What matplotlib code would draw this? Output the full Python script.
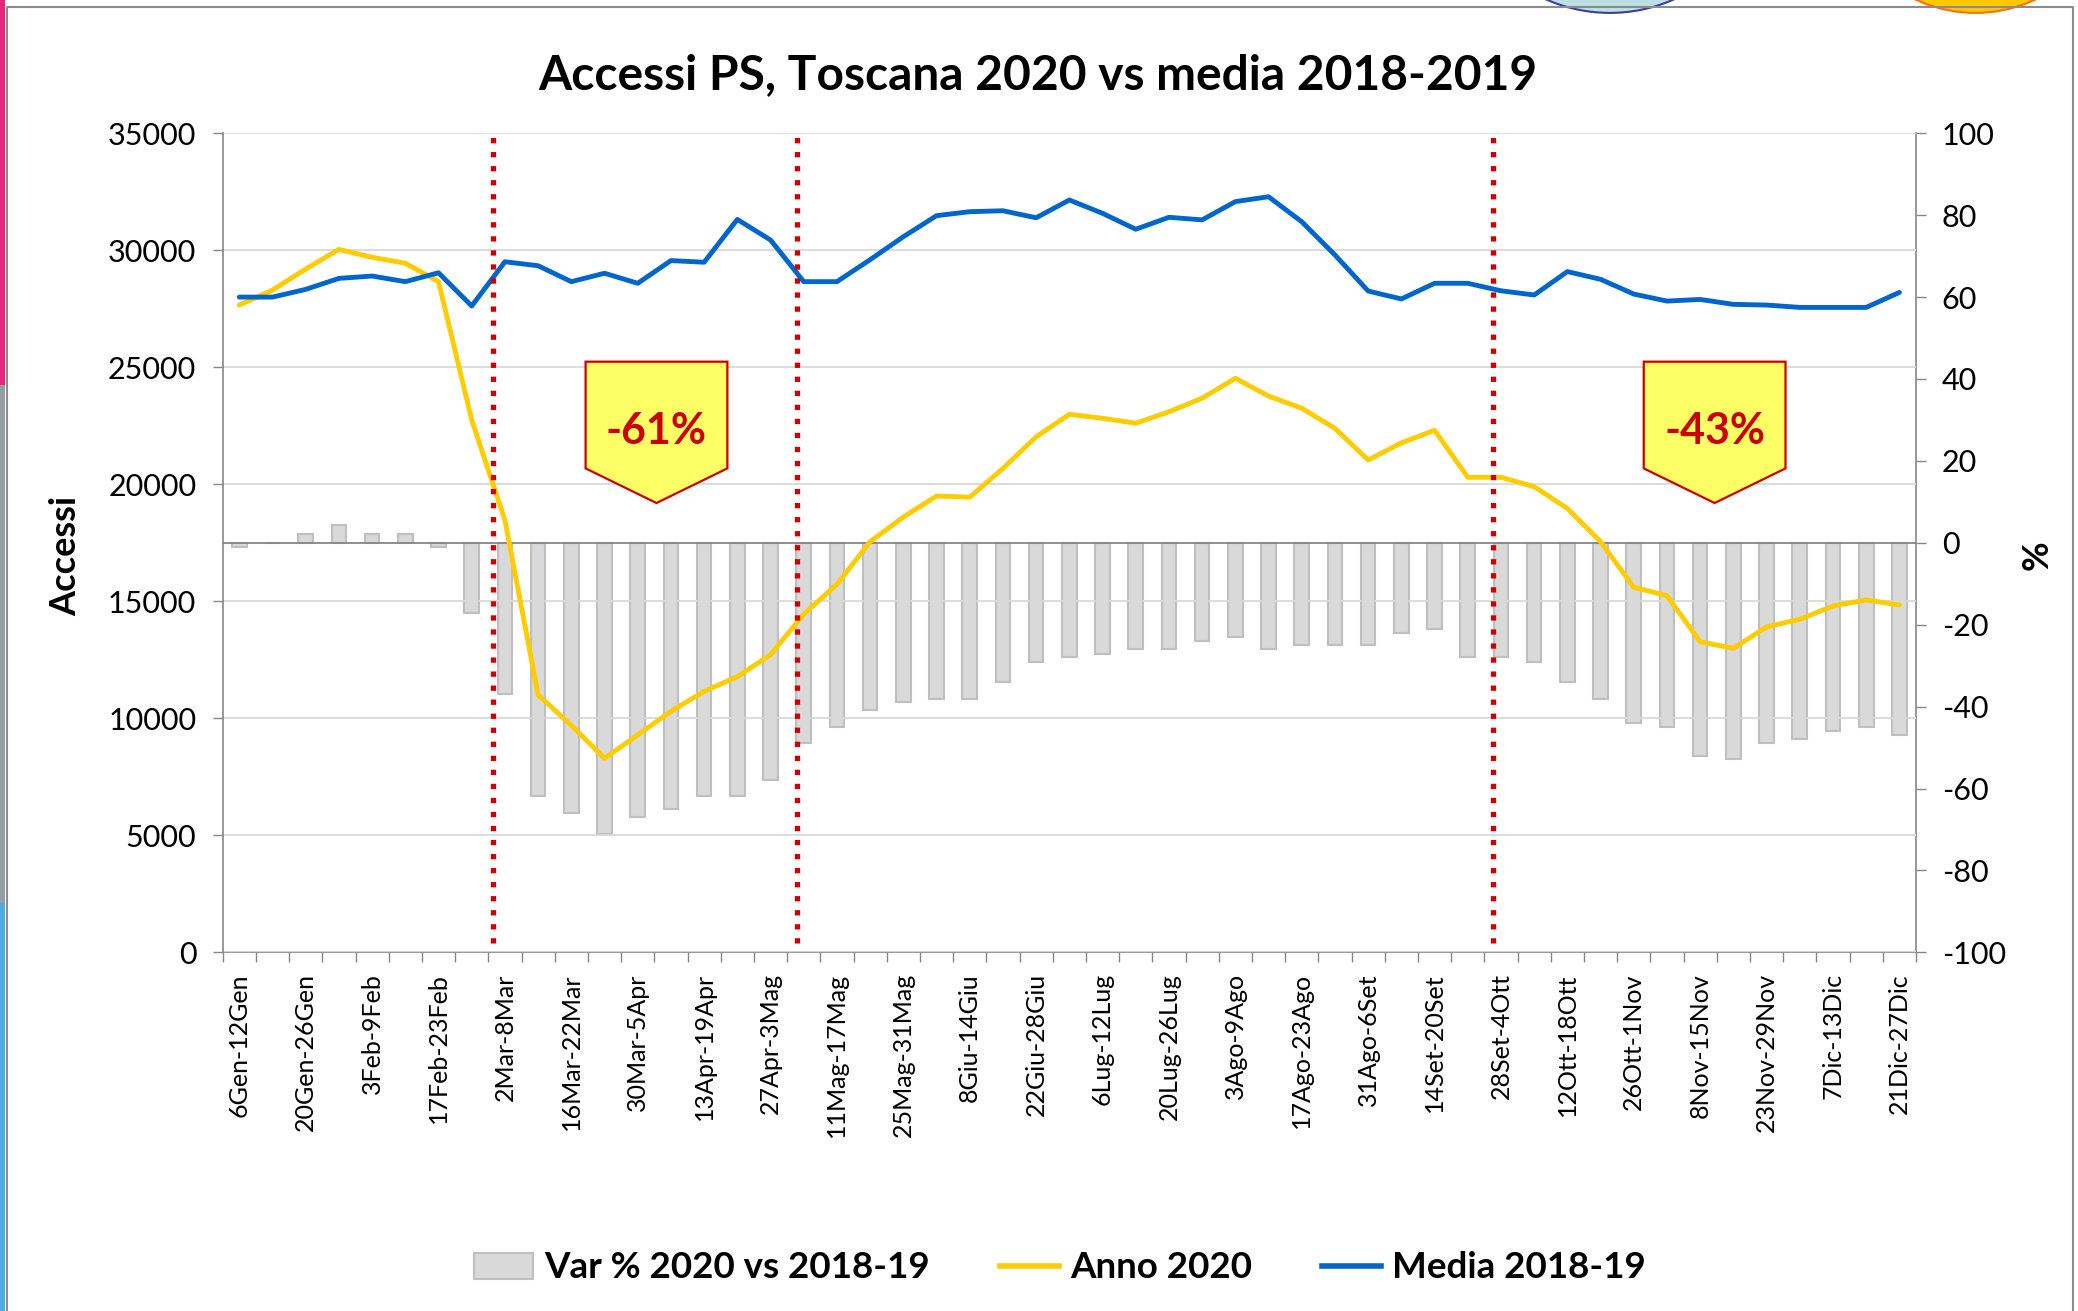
import matplotlib
matplotlib.use('Agg')
import matplotlib.pyplot as plt
from matplotlib.patches import Polygon, Patch, Circle, Rectangle
from matplotlib.lines import Line2D
from matplotlib.transforms import IdentityTransform
import numpy as np

# ---------------- data ----------------
weeks = ["6Gen-12Gen", "13Gen-19Gen", "20Gen-26Gen", "27Gen-2Feb", "3Feb-9Feb",
         "10Feb-16Feb", "17Feb-23Feb", "24Feb-1Mar", "2Mar-8Mar", "9Mar-15Mar",
         "16Mar-22Mar", "23Mar-29Mar", "30Mar-5Apr", "6Apr-12Apr", "13Apr-19Apr",
         "20Apr-26Apr", "27Apr-3Mag", "4Mag-10Mag", "11Mag-17Mag", "18Mag-24Mag",
         "25Mag-31Mag", "1Giu-7Giu", "8Giu-14Giu", "15Giu-21Giu", "22Giu-28Giu",
         "29Giu-5Lug", "6Lug-12Lug", "13Lug-19Lug", "20Lug-26Lug", "27Lug-2Ago",
         "3Ago-9Ago", "10Ago-16Ago", "17Ago-23Ago", "24Ago-30Ago", "31Ago-6Set",
         "7Set-13Set", "14Set-20Set", "21Set-27Set", "28Set-4Ott", "5Ott-11Ott",
         "12Ott-18Ott", "19Ott-25Ott", "26Ott-1Nov", "2Nov-8Nov", "8Nov-15Nov",
         "16Nov-22Nov", "23Nov-29Nov", "30Nov-6Dic", "7Dic-13Dic", "14Dic-20Dic",
         "21Dic-27Dic"]

media_2018_19 = [28000, 28000, 28330, 28800, 28900, 28660, 29040, 27620, 29510, 29340,
                 28660, 29020, 28590, 29560, 29490, 31320, 30440, 28660, 28660, 29600,
                 30580, 31480, 31650, 31690, 31390, 32150, 31580, 30900, 31410, 31300,
                 32080, 32290, 31220, 29800, 28260, 27920, 28590, 28590, 28270, 28090,
                 29090, 28760, 28130, 27830, 27900, 27690, 27660, 27560, 27560, 27560,
                 28200]

anno_2020 = [27660, 28300, 29200, 30040, 29700, 29450, 28660, 22750, 18470, 11000,
             9700, 8290, 9290, 10300, 11150, 11780, 12720, 14450, 15730, 17550,
             18600, 19500, 19450, 20680, 22030, 22990, 22820, 22610, 23100, 23680,
             24530, 23770, 23250, 22390, 21040, 21770, 22310, 20300, 20300, 19900,
             18970, 17550, 15600, 15240, 13270, 12990, 13910, 14230, 14800, 15060,
             14840]

var_pct = [-1.0, 0.0, 2.2, 4.3, 2.2, 2.2, -1.0, -17.1, -37.0, -61.9,
           -66.0, -71.0, -67.0, -65.1, -61.9, -61.9, -58.0, -49.0, -45.1, -40.9,
           -38.9, -38.1, -38.1, -34.0, -29.1, -27.9, -27.1, -26.0, -26.0, -24.0,
           -23.0, -26.0, -25.0, -25.0, -25.0, -22.0, -21.0, -27.9, -27.9, -29.1,
           -34.0, -38.1, -44.0, -45.1, -52.1, -52.9, -49.0, -48.0, -45.9, -45.1,
           -47.0]

callout_labels = ["-61%", "-43%"]

# ---------------- style ----------------
plt.rcParams['font.family'] = ['Lato', 'DejaVu Sans']
plt.rcParams['axes.unicode_minus'] = False
C_BLUE = '#0066CC'
C_YEL = '#FFCC00'
C_RED = '#CC0000'
C_AX = '#868686'

W, H = 2078, 1311
fig = plt.figure(figsize=(W / 100, H / 100), dpi=100)
L, R, B, T = 222.7, 1916, 952.3, 133.3
ax = fig.add_axes([L / W, 1 - B / H, (R - L) / W, (B - T) / H])
ax2 = ax.twinx()

x = np.arange(len(weeks))

# bars on the % axis (drawn beneath)
ax.bar(x, var_pct, width=0.44, color='#D9D9D9', edgecolor='#BFBFBF',
       linewidth=1.5, zorder=2)
ax.axhline(0, color=C_AX, lw=1.3, zorder=3)
ax.set_ylim(-100, 100)
ax.set_xlim(-0.5, len(weeks) - 0.5)
ax.yaxis.tick_right()
ax.yaxis.set_label_position('right')
ax.set_yticks(range(-100, 101, 20))
ax.tick_params(axis='y', which='both', right=True, left=False, length=7.5,
               color=C_AX, width=1, labelsize=22, pad=11)

# x ticks: labels every other week, tick marks at category boundaries
ax.set_xticks(x[::2])
ax.set_xticklabels(weeks[::2], rotation=90, fontsize=18)
ax.set_xticks(np.arange(-0.5, len(weeks), 1), minor=True)
ax.tick_params(axis='x', which='major', length=0, pad=15)
ax.tick_params(axis='x', which='minor', length=7, color=C_AX, width=1)

for s in ['top', 'left']:
    ax.spines[s].set_visible(False)
for s in ['bottom', 'right']:
    ax.spines[s].set_color(C_AX)
    ax.spines[s].set_linewidth(1.2)

# lines on the Accessi axis
ax2.yaxis.tick_left()
ax2.yaxis.set_label_position('left')
ax2.set_ylim(0, 35000)
ax2.set_yticks(range(0, 35001, 5000))
ax2.tick_params(axis='y', left=True, right=False, length=7, color=C_AX, width=1,
                labelsize=22, pad=12)
ax2.grid(axis='y', color='#D9D9D9', lw=1.3, zorder=0)
for s in ['top', 'right', 'bottom']:
    ax2.spines[s].set_visible(False)
ax2.spines['left'].set_color(C_AX)
ax2.spines['left'].set_linewidth(1.2)

ax2.plot(x, anno_2020, color=C_YEL, lw=3.5, solid_joinstyle='round',
         solid_capstyle='round', zorder=4)
ax2.plot(x, media_2018_19, color=C_BLUE, lw=3.5, solid_joinstyle='round',
         solid_capstyle='round', zorder=5)

# red dotted vertical markers
for xv in [7.65, 16.8, 37.77]:
    ax2.axvline(xv, ymin=0.011, ymax=1.0, color=C_RED, lw=3.8,
                linestyle=(0, (1, 1.66)), dash_capstyle='butt', zorder=7)

# callout boxes
for (x0, x1), lab in zip([(10.43, 14.7), (42.3, 46.57)], callout_labels):
    xm = (x0 + x1) / 2
    poly = Polygon([(x0, 25240), (x1, 25240), (x1, 20680), (xm, 19200),
                    (x0, 20680)], closed=True, facecolor='#FFFF66',
                   edgecolor=C_RED, lw=1.6, zorder=8)
    ax2.add_patch(poly)
    ax2.text(xm, 21720, lab, ha='center', va='baseline', fontsize=31,
             fontweight='bold', color=C_RED, zorder=9)

# titles and axis labels
fig.text(1038 / W, 1 - 89 / H, "Accessi PS, Toscana 2020 vs media 2018-2019",
         ha='center', va='baseline', fontsize=34.5, fontweight='bold')
fig.text(66 / W, 1 - 556 / H, "Accessi", rotation=90, ha='center', va='center',
         fontsize=26, fontweight='bold')
fig.text(2037 / W, 1 - 555 / H, "%", rotation=90, ha='center', va='center',
         fontsize=26, fontweight='bold')

# legend
handles = [Patch(facecolor='#D9D9D9', edgecolor='#BFBFBF', lw=1.5),
           Line2D([], [], color=C_YEL, lw=4),
           Line2D([], [], color=C_BLUE, lw=4)]
fig.legend(handles, ["Var % 2020 vs 2018-19", "Anno 2020", "Media 2018-19"],
           loc='center', bbox_to_anchor=(1060 / W, 1 - 1268 / H), ncol=3,
           frameon=False, prop={'weight': 'bold', 'size': 26.5},
           handlelength=1.6, handletextpad=0.3, columnspacing=1.9)

# slide decorations: frame, left colour stripes, circles at top
fig.add_artist(Rectangle((0, 1 - 385 / H), 5 / W, 385 / H, transform=fig.transFigure,
                         facecolor='#E6287A', edgecolor='none'))
fig.add_artist(Rectangle((0, 1 - 903 / H), 5 / W, 518 / H, transform=fig.transFigure,
                         facecolor='#939EA5', edgecolor='none'))
fig.add_artist(Rectangle((0, 0), 5 / W, 1 - 903 / H, transform=fig.transFigure,
                         facecolor='#4DADDF', edgecolor='none'))
fig.add_artist(Line2D([6.5 / W, 6.5 / W, 2073 / W, 2073 / W],
                      [0, 1 - 7 / H, 1 - 7 / H, 0], transform=fig.transFigure,
                      color='#8C8C8C', lw=1.5))
fig.add_artist(Circle((1610, H - (12.9 - 158)), 158, transform=IdentityTransform(),
                      facecolor='#BCE0E3', edgecolor='#3B3D9E', lw=1.5))
fig.add_artist(Circle((1975.5, H - (12.9 - 141)), 141, transform=IdentityTransform(),
                      facecolor='#FFC800', edgecolor='#FF7000', lw=1.5))

fig.savefig('out.png', dpi=100)
